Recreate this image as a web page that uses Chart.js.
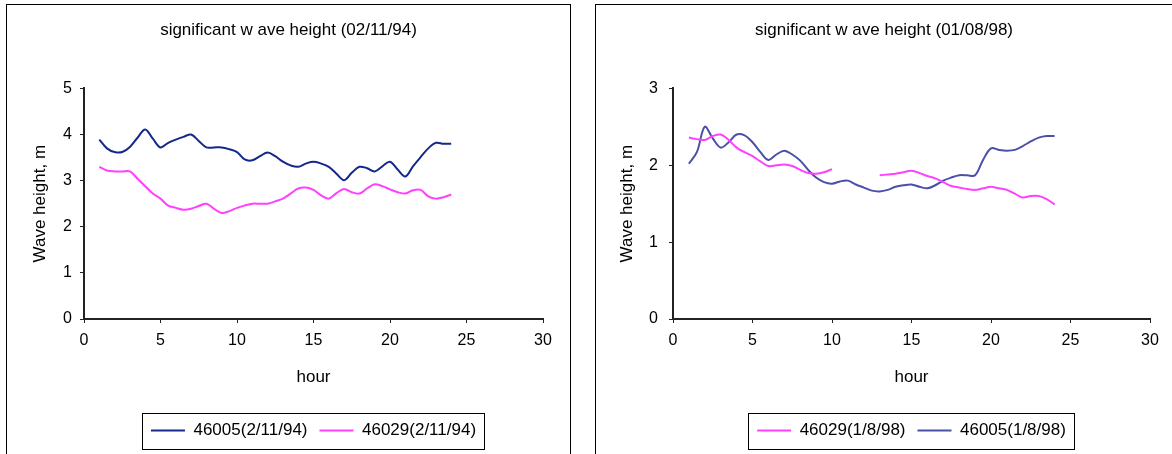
<!DOCTYPE html>
<html lang="en">
<head>
<meta charset="UTF-8">
<title>Significant wave height</title>
<script src="https://cdn.jsdelivr.net/npm/chart.js"></script>
<style>
  html, body { margin: 0; padding: 0; background: #fff; overflow: hidden; }
  body { width: 1172px; height: 454px; position: relative; }
  .panel { position: absolute; top: 4px; height: 520px; border: 1px solid #000; background: #fff; }
  .panel .box { position: absolute; left: 0; top: 0; height: 449px; }
</style>
</head>
<body>
<div class="panel" style="left:6px; width:563px;">
  <div class="box" style="width:563px;"><canvas id="left"></canvas></div>
</div>
<div class="panel" style="left:595px; width:600px;">
  <div class="box" style="width:576px;"><canvas id="right"></canvas></div>
</div>

<script>
// hours of the half-hourly readings
const hours = [1, 1.5, 2, 2.5, 3, 3.5, 4, 4.5, 5, 5.5, 6, 6.5, 7, 7.5, 8, 8.5,
  9, 9.5, 10, 10.5, 11, 11.5, 12, 12.5, 13, 13.5, 14, 14.5, 15, 15.5, 16, 16.5,
  17, 17.5, 18, 18.5, 19, 19.5, 20, 20.5, 21, 21.5, 22, 22.5, 23, 23.5, 24];

// 02/11/94
const b46005_94 = [3.89, 3.70, 3.62, 3.62, 3.73, 3.93, 4.11, 3.91, 3.72, 3.82, 3.89, 3.95,
  4.00, 3.86, 3.72, 3.72, 3.72, 3.68, 3.62, 3.46, 3.44, 3.53, 3.61, 3.53, 3.41, 3.33,
  3.30, 3.37, 3.41, 3.37, 3.30, 3.15, 3.01, 3.17, 3.30, 3.27, 3.20, 3.31, 3.41, 3.24,
  3.09, 3.31, 3.51, 3.70, 3.82, 3.80, 3.80];
const b46029_94 = [3.30, 3.22, 3.20, 3.20, 3.20, 3.04, 2.88, 2.72, 2.61, 2.46, 2.41, 2.37,
  2.39, 2.45, 2.50, 2.39, 2.30, 2.34, 2.41, 2.46, 2.50, 2.50, 2.50, 2.55, 2.61, 2.72,
  2.83, 2.85, 2.80, 2.68, 2.61, 2.73, 2.82, 2.75, 2.72, 2.83, 2.92, 2.88, 2.81, 2.75,
  2.72, 2.79, 2.80, 2.66, 2.61, 2.64, 2.70];

// 01/08/98 (46029 has no readings between 10 and 13 h)
const b46029_98 = [2.36, 2.34, 2.33, 2.38, 2.40, 2.33, 2.23, 2.17, 2.12, 2.05, 1.99, 2.00,
  2.01, 1.99, 1.94, 1.90, 1.89, 1.91, 1.95, null, null, null, null, null, 1.87, 1.88,
  1.89, 1.91, 1.93, 1.90, 1.86, 1.83, 1.78, 1.73, 1.71, 1.69, 1.68, 1.70, 1.72, 1.70,
  1.68, 1.63, 1.58, 1.60, 1.60, 1.56, 1.49];
const b46005_98 = [2.02, 2.17, 2.50, 2.35, 2.23, 2.30, 2.40, 2.39, 2.30, 2.17, 2.07, 2.14,
  2.19, 2.14, 2.06, 1.94, 1.84, 1.78, 1.76, 1.79, 1.80, 1.75, 1.71, 1.67, 1.66, 1.68,
  1.72, 1.74, 1.75, 1.72, 1.70, 1.74, 1.80, 1.84, 1.87, 1.87, 1.87, 2.07, 2.22, 2.20,
  2.19, 2.20, 2.25, 2.31, 2.36, 2.38, 2.38];

const xTicks = [0, 5, 10, 15, 20, 25, 30];

const FONT = 'Arial, "Liberation Sans", sans-serif';

function pts(values) {
  return hours.map((h, i) => ({ x: h, y: values[i] }));
}

// centre the title on the whole panel, not only the padded part
const titleCenter = {
  id: 'titleCenter',
  afterLayout(chart) {
    const t = chart.titleBlock;
    if (!t) return;
    t.left = 0;
    t.right = chart.width;
    t.width = chart.width;
  }
};

// draws the rectangle around the legend, like the spreadsheet legend frame
const legendFrame = {
  id: 'legendFrame',
  afterDraw(chart) {
    const boxes = chart.legend.legendHitBoxes;
    if (!boxes || !boxes.length) return;
    const first = boxes[0], last = boxes[boxes.length - 1];
    const cy = first.top + first.height / 2;
    const ctx = chart.ctx;
    ctx.save();
    ctx.strokeStyle = '#000';
    ctx.lineWidth = 1;
    ctx.strokeRect(Math.round(first.left - 9) + 0.5, Math.round(cy - 18) + 0.5,
      Math.round(last.left + last.width - first.left + 17), 36);
    ctx.restore();
  }
};

function makeChart(id, title, datasets, yMax, opt) {
  return new Chart(document.getElementById(id), {
    type: 'scatter',
    data: { datasets: datasets },
    options: {
      responsive: true,
      maintainAspectRatio: false,
      animation: false,
      layout: { padding: { left: 0, right: opt.padRight, top: 0, bottom: 5 } },
      elements: { point: { radius: 0 } },
      plugins: {
        title: {
          display: true,
          text: title,
          color: '#000',
          font: { family: FONT, size: 17, weight: 'normal' },
          padding: { top: 15, bottom: 48 }
        },
        legend: {
          position: 'bottom',
          fullSize: false,
          labels: {
            color: '#000',
            font: { family: FONT, size: 17 },
            usePointStyle: true,
            pointStyle: 'line',
            pointStyleWidth: 34,
            padding: 12
          }
        },
        tooltip: { enabled: false }
      },
      scales: {
        x: {
          type: 'linear',
          min: 0, max: 30,
          afterBuildTicks: (s) => { s.ticks = xTicks.map(v => ({ value: v })); },
          afterFit: (s) => { s.height = 91; },
          border: { display: true, color: '#222', width: 2 },
          grid: { drawOnChartArea: false, drawTicks: true, tickLength: 4, color: '#222' },
          ticks: { color: '#000', font: { family: FONT, size: 16 }, padding: 8, maxRotation: 0 },
          title: {
            display: true, text: 'hour', color: '#000',
            font: { family: FONT, size: 17 }, padding: { top: 0, bottom: 22 }
          }
        },
        y: {
          min: 0, max: yMax,
          afterFit: (s) => { s.width = 77; },
          border: { display: true, color: '#222', width: 2 },
          grid: { drawOnChartArea: false, drawTicks: true, tickLength: 4, color: '#222' },
          ticks: { stepSize: 1, color: '#000', font: { family: FONT, size: 16 }, padding: opt.yPad },
          title: {
            display: true, text: 'Wave height, m', color: '#000',
            font: { family: FONT, size: 17 }, padding: { top: opt.yTitlePad, bottom: 0 }
          }
        }
      }
    },
    plugins: [titleCenter, legendFrame]
  });
}

function line(label, values, color) {
  return {
    label: label,
    data: pts(values),
    showLine: true,
    spanGaps: false,
    borderColor: color,
    backgroundColor: color,
    borderWidth: 2,
    tension: 0.35,
    fill: false
  };
}

makeChart('left', 'significant w ave height (02/11/94)', [
  line('46005(2/11/94)', b46005_94, '#14288c'),
  line('46029(2/11/94)', b46029_94, '#ff40ff')
], 5, { padRight: 27, yPad: 8, yTitlePad: 23 });

makeChart('right', 'significant w ave height (01/08/98)', [
  line('46029(1/8/98)', b46029_98, '#ff40ff'),
  line('46005(1/8/98)', b46005_98, '#4a50a8')
], 3, { padRight: 22, yPad: 11, yTitlePad: 21 });
</script>
</body>
</html>
